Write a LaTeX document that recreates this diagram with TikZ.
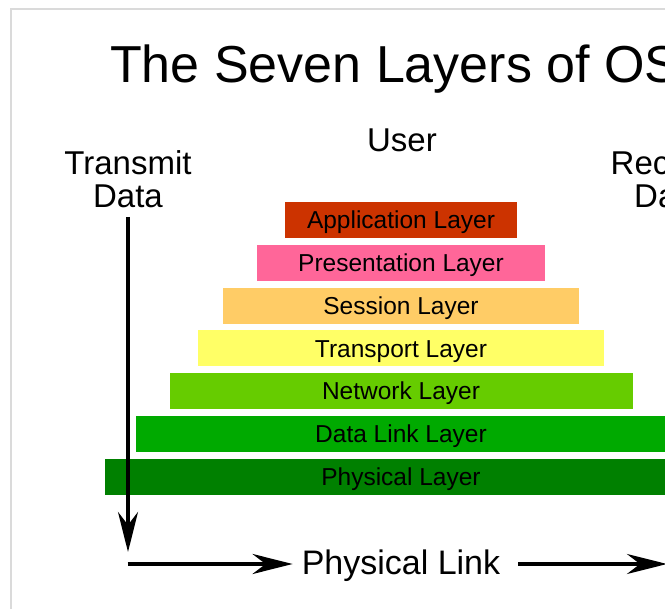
\documentclass[tikz,border=0pt]{standalone}
\usepackage{fontspec}
\setmainfont{Liberation Sans}
\usetikzlibrary{arrows.meta}

\definecolor{framegray}{HTML}{DADADA}
\definecolor{appc}{HTML}{CC3300}
\definecolor{presc}{HTML}{FF6699}
\definecolor{sessc}{HTML}{FFCC66}
\definecolor{transc}{HTML}{FFFF66}
\definecolor{netc}{HTML}{66CC00}
\definecolor{linkc}{HTML}{00AA00}
\definecolor{physc}{HTML}{008000}

\tikzset{
  layer/.style={minimum height=36pt, inner sep=0pt, text height=17.5pt, text depth=0pt,
    font=\fontsize{24.5}{28}\selectfont},
  lbl/.style={font=\fontsize{33}{33}\selectfont, inner sep=0pt},
  flow/.style={line width=4pt, -{Stealth[length=40pt,width=20pt,inset=13pt]}},
}

\begin{document}
\begin{tikzpicture}[x=1pt, y=-1pt]
    % canvas and the frame of the image
    \fill[white] (0,0) rectangle (665,609);
    \useasboundingbox (0,0) rectangle (665,609);
    \clip (0,0) rectangle (665,609);
    \draw[framegray, line width=1.5pt] (11,612) -- (11,9) -- (668,9);

    % headings
    \node[inner sep=0pt, anchor=base west, font=\fontsize{52}{60}\selectfont] (title) at (110,83) {The Seven Layers of OS};
    \node[lbl, anchor=base] (user) at (402,152) {User};
    \node[lbl, align=center, anchor=south] (tx) at (128,208) {Transmit\\Data};
    \node[lbl, anchor=base west] (rxa) at (610.5,175) {Rec};
    \node[lbl, anchor=base west] (rxb) at (634,208) {Da};

    % the stack of layers
    \foreach \name/\w/\col/\txt [count=\i] in {
        app/232/appc/Application,
        pres/288/presc/Presentation,
        sess/356/sessc/Session,
        trans/406/transc/Transport,
        net/463/netc/Network,
        dlink/530/linkc/Data Link,
        phys/593/physc/Physical}{
        \node[layer, minimum width=\w pt, fill=\col] (\name) at (401,{220+42.8*(\i-1)}) {\txt{} Layer};
    }

    % arrows
    \node[lbl, font=\fontsize{34}{34}\selectfont, inner xsep=9pt, anchor=base] (link) at (401,575) {Physical Link};
    \coordinate (txend) at (127.5,552);
    \coordinate (corner) at (127.5,564);
    \coordinate (rxend) at (667,564);
    \draw[flow, shorten <=9pt] (tx.south) -- (tx.south |- txend);
    \draw[flow] (corner) -- (corner -| link.west);
    \draw[flow, shorten <=9pt] (link.east |- corner) -- (rxend);
\end{tikzpicture}
\end{document}
